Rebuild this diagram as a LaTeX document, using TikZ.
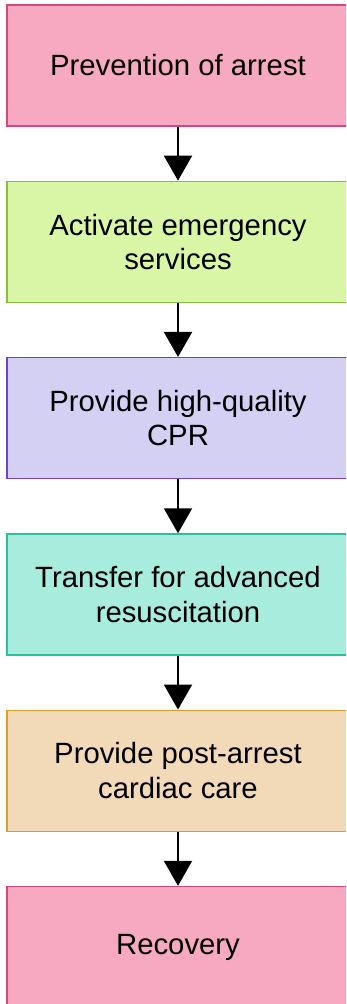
\documentclass[tikz,border=0pt]{standalone}
\usepackage{fontspec}
\setmainfont{Liberation Sans}
\usepackage{tikz}
\usetikzlibrary{arrows.meta,positioning}
\definecolor{pinkfill}{HTML}{F7A9C1}
\definecolor{pinkline}{HTML}{D6467E}
\definecolor{greenfill}{HTML}{D9F6A6}
\definecolor{greenline}{HTML}{86BF3C}
\definecolor{purplefill}{HTML}{D3D0F4}
\definecolor{purpleline}{HTML}{6F43D0}
\definecolor{tealfill}{HTML}{A7ECDC}
\definecolor{tealline}{HTML}{2DBE9C}
\definecolor{tanfill}{HTML}{F2DAB9}
\definecolor{tanline}{HTML}{DE9E2E}
\tikzset{
  stage/.style={draw, line width=1.3pt, minimum width=342pt, minimum height=121pt,
    align=center, font=\fontsize{29.3}{34.5}\selectfont},
  pinkstage/.style={stage, fill=pinkfill, draw=pinkline},
  greenstage/.style={stage, fill=greenfill, draw=greenline},
  purplestage/.style={stage, fill=purplefill, draw=purpleline},
  tealstage/.style={stage, fill=tealfill, draw=tealline},
  tanstage/.style={stage, fill=tanfill, draw=tanline},
  arrow/.style={-{Triangle[width=28pt,length=25pt]}, line width=2pt}
}

\begin{document}
\begin{tikzpicture}[node distance=54pt]
    \useasboundingbox (0,0) rectangle (346pt,-1004pt);
    \clip (0,0) rectangle (346pt,-1004pt);
    % Stages
    \node[pinkstage] (prevent) at (178pt,-65.5pt) {Prevention of arrest};
    \node[greenstage, below=of prevent] (activate) {Activate emergency\\services};
    \node[purplestage, below=of activate] (cpr) {Provide high-quality\\CPR};
    \node[tealstage, below=of cpr] (transfer) {Transfer for advanced\\resuscitation};
    \node[tanstage, below=of transfer] (postcare) {Provide post-arrest\\cardiac care};
    \node[pinkstage, below=of postcare] (recovery) {Recovery};
    % Arrows
    \foreach \a/\b in {prevent/activate,activate/cpr,cpr/transfer,transfer/postcare,postcare/recovery}
      \draw[arrow] (\a) -- (\b);
\end{tikzpicture}
\end{document}
